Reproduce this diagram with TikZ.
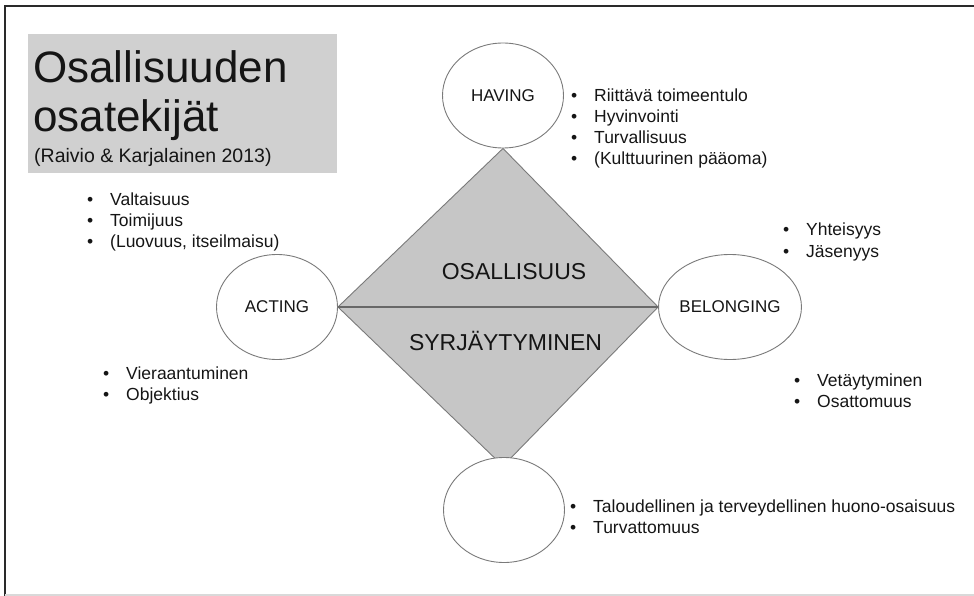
\documentclass[tikz,border=0pt]{standalone}
\usepackage{fontspec}
\setmainfont{Liberation Sans}
\usetikzlibrary{shapes.geometric,backgrounds}
\definecolor{boxgray}{HTML}{D0D0D0}
\definecolor{diagray}{HTML}{C6C6C6}
\definecolor{edgegray}{HTML}{7A7A7A}
\definecolor{midgray}{HTML}{686868}
\definecolor{framegray}{HTML}{2A2A2A}
\definecolor{ink}{HTML}{151515}
\newcommand{\bul}[1]{\makebox[23pt][l]{•}#1}
\begin{document}
\begin{tikzpicture}[x=1pt,y=-1pt,
  circ/.style={ellipse,draw=edgegray,line width=0.9pt,fill=white,minimum width=121pt,minimum height=105pt,inner sep=0pt,font=\fontsize{17}{20}\selectfont,text=ink},
  blist/.style={anchor=base west,inner sep=0pt,font=\fontsize{17.5}{21}\selectfont,text=ink},
  big/.style={anchor=base,inner sep=0pt,font=\fontsize{23}{27}\selectfont,text=ink},
  titletext/.style={anchor=base west,inner sep=0pt,text=ink}]
\useasboundingbox (0,0) rectangle (974,596);
% frame
\draw[framegray,line width=2.8pt] (974,6) -- (5,6) -- (5,596);
\draw[black!15,line width=1.5pt] (5,595) -- (974,595);
% title box
\node[fill=boxgray,minimum width=309pt,minimum height=139pt,anchor=north west,inner sep=0pt] (titlebox) at (28,34) {};
\node[titletext,font=\fontsize{44}{49}\selectfont] (t1) at (33,83) {Osallisuuden};
\node[titletext,font=\fontsize{44}{49}\selectfont] (t2) at (33,132) {osatekijät};
\node[titletext,font=\fontsize{19.5}{23}\selectfont] (t3) at (34,163) {(Raivio \& Karjalainen 2013)};
% circles
\node[circ] (having) at (503,95.5) {HAVING};
\node[circ] (acting) at (277,307) {ACTING};
\node[circ] (belonging) at (730,307) {BELONGING};
\node[circ] (bottom) at (504,510) {};
\coordinate (dbot) at (503,466);
% diamond
\begin{scope}[on background layer]
\filldraw[fill=diagray,draw=edgegray,line width=0.9pt] (having.south) -- (belonging.west) -- (dbot) -- (acting.east) -- cycle;
\end{scope}
\draw[midgray,line width=1.6pt] (acting.east) -- (belonging.west);
\node[big] (osal) at (514,279) {OSALLISUUS};
\node[big] (syrj) at (505.5,350) {SYRJÄYTYMINEN};
% lists
\node[blist] (havlist) at (571,102) {\begin{tabular}[t]{@{}l@{}}\bul{Riittävä toimeentulo}\\ \bul{Hyvinvointi}\\ \bul{Turvallisuus}\\ \bul{(Kulttuurinen pääoma)}\end{tabular}};
\node[blist] (actlist) at (87,205) {\begin{tabular}[t]{@{}l@{}}\bul{Valtaisuus}\\ \bul{Toimijuus}\\ \bul{(Luovuus, itseilmaisu)}\end{tabular}};
\node[blist] (actneg) at (103,379) {\begin{tabular}[t]{@{}l@{}}\bul{Vieraantuminen}\\ \bul{Objektius}\end{tabular}};
\node[blist] (bellist) at (783,236) {\begin{tabular}[t]{@{}l@{}}\bul{Yhteisyys}\\ \bul{Jäsenyys}\end{tabular}};
\node[blist] (belneg) at (794,386) {\begin{tabular}[t]{@{}l@{}}\bul{Vetäytyminen}\\ \bul{Osattomuus}\end{tabular}};
\node[blist] (botlist) at (570,512) {\begin{tabular}[t]{@{}l@{}}\bul{Taloudellinen ja terveydellinen huono-osaisuus}\\ \bul{Turvattomuus}\end{tabular}};
\end{tikzpicture}
\end{document}
